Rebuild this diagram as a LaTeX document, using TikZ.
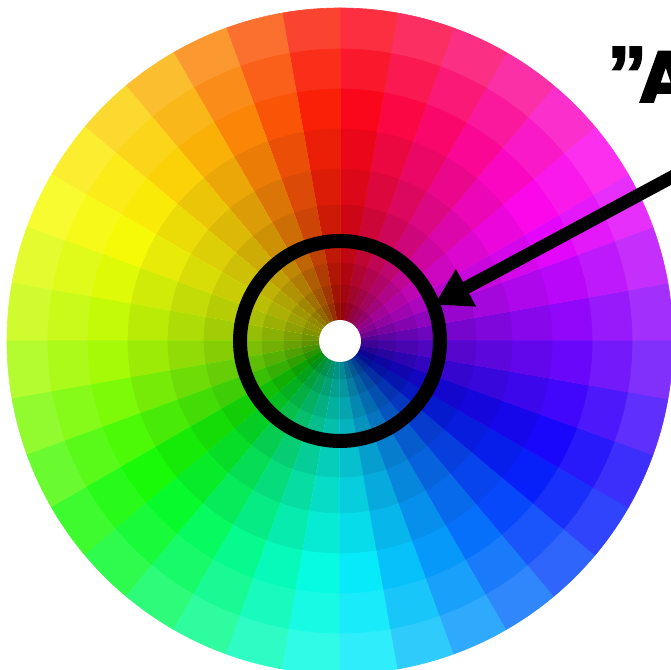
\PassOptionsToPackage{rgb}{xcolor}
\documentclass[tikz,border=0pt]{standalone}
\usepackage{fontspec}
\newfontfamily\heavy{Poppins}[BoldFeatures={FakeBold=2.5}]
\newfontfamily\quotefont{Liberation Sans}[BoldFeatures={FakeBold=2}]
\usetikzlibrary{arrows.meta}
\begin{document}
\begin{tikzpicture}[x=1pt,y=1pt]
\useasboundingbox (0,0) rectangle (671,669);
\fill[white] (0,0) rectangle (671,669);
\clip (0,0) rectangle (671,669);
\coordinate (C) at (340,328);
% colour wheel: 36 sectors x 10 rings
\foreach \k in {0,...,35}{
  \pgfmathsetmacro{\aone}{10*\k}
  \pgfmathsetmacro{\atwo}{10*\k+10}
  \pgfmathsetmacro{\mid}{10*\k+5}
  \pgfmathtruncatemacro{\hue}{mod(270+\mid+8*exp(-((\mid-125)/25)^2)-14*exp(-((\mid-190)/35)^2)+360,360)}
  \definecolor{hcx}{Hsb}{\hue,0.97,0.98}
  \colorlet{hc}[rgb]{hcx}
  \foreach \r/\cc in {333/hc!84!white, 292/hc!93!white, 252/hc, 212/hc!94!black, 172/hc!88!black, 136/hc!82!black, 104/hc!76!black, 78/hc!70!black, 56/hc!64!black, 38/hc!58!black}{
    \fill[\cc, draw=\cc, line width=0.6pt, line join=round] (C) -- ++(\aone:\r) arc[start angle=\aone, end angle=\atwo, radius=\r] -- cycle;
  }
}
\node[circle, fill=white, minimum size=42pt, inner sep=0pt] (hole) at (C) {};
\node[circle, draw=black, line width=14pt, minimum size=200pt, inner sep=0pt] (ring) at (C) {};
\path (C) ++(21:101) coordinate (tip);
\coordinate (astart) at (700,507);
\draw[line width=13pt, -{Triangle[length=36pt,width=40pt]}] (astart) -- (tip);
\node[anchor=base west, inner sep=0pt] (title) at (607,567)
  {{\quotefont\bfseries\fontsize{80}{80}\selectfont ”}\kern-8pt{\heavy\bfseries\fontsize{72}{72}\selectfont A}};
\end{tikzpicture}
\end{document}
